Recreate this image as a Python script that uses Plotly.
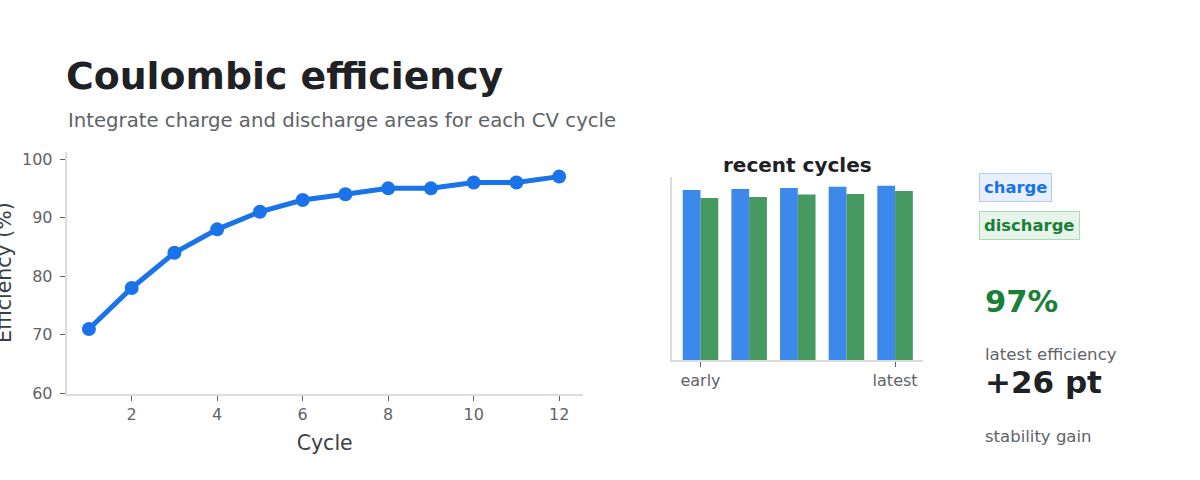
import plotly.graph_objects as go

W, H = 1200, 480

# ---- data ----
cycles = [1, 2, 3, 4, 5, 6, 7, 8, 9, 10, 11, 12]
efficiency = [71, 78, 84, 88, 91, 93, 94, 95, 95, 96, 96, 97]

recent_idx = [0, 1, 2, 3, 4]
recent_ticks = ["early", "latest"]
charge = [100.0, 100.6, 101.2, 101.8, 102.4]
discharge = [95.3, 95.8, 97.3, 97.6, 99.4]

latest_eff = "97%"
gain = "+26 pt"

FONT = "DejaVu Sans"
BLUE = "#1a73e8"
GREEN = "#188038"
DARK = "#202124"
GRAY = "#5f6368"
AXIS = "#dadce0"


def px(x):
    return x / W


def py(y):
    return 1 - y / H


fig = go.Figure()

fig.add_trace(go.Scatter(
    x=cycles, y=efficiency, mode="lines+markers",
    line=dict(color=BLUE, width=5),
    marker=dict(color=BLUE, size=14),
    xaxis="x", yaxis="y", showlegend=False,
))

fig.add_trace(go.Bar(
    x=recent_idx, y=charge, name="charge",
    marker=dict(color=BLUE, opacity=0.85, line=dict(width=0)),
    xaxis="x2", yaxis="y2", showlegend=False,
))
fig.add_trace(go.Bar(
    x=recent_idx, y=discharge, name="discharge",
    marker=dict(color=GREEN, opacity=0.8, line=dict(width=0)),
    xaxis="x2", yaxis="y2", showlegend=False,
))

axis_common = dict(
    showgrid=False, zeroline=False, showline=True, linecolor=AXIS, linewidth=2,
    ticks="outside", ticklen=5, tickcolor=GRAY, tickwidth=1,
    tickfont=dict(family=FONT, size=16, color=GRAY), automargin=False,
)

fig.update_layout(
    width=W, height=H,
    margin=dict(l=0, r=0, t=0, b=0),
    paper_bgcolor="white", plot_bgcolor="white",
    font=dict(family=FONT, color=DARK),
    barmode="group", bargap=0.27, bargroupgap=0,
    xaxis=dict(
        domain=[px(66.7), px(582.7)], range=[0.48, 12.55], anchor="y",
        tickvals=[2, 4, 6, 8, 10, 12],
        title=dict(text="Cycle", font=dict(family=FONT, size=20.5, color="#3c4043"), standoff=13),
        **axis_common,
    ),
    yaxis=dict(
        domain=[py(393.5), py(152)], range=[60, 101.2], anchor="x",
        tickvals=[60, 70, 80, 90, 100], ticklabelstandoff=4,
        **axis_common,
    ),
    xaxis2=dict(
        domain=[px(672.3), px(923.3)], range=[-0.58, 4.58], anchor="y2",
        tickvals=[0, 4], ticktext=recent_ticks,
        **axis_common,
    ),
    yaxis2=dict(
        domain=[py(360), py(177)], range=[0, 107.6], anchor="x2",
        showgrid=False, zeroline=False, showline=True, linecolor=AXIS, linewidth=2,
        showticklabels=False, ticks="", automargin=False,
    ),
)

ann = []
ann.append(dict(text="Efficiency (%)", x=px(4), y=py(273), xanchor="center", yanchor="middle",
                textangle=-90, font=dict(family=FONT, size=20.5, color="#3c4043")))
ann.append(dict(text="<b>Coulombic efficiency</b>", x=px(64), y=py(76), xanchor="left", yanchor="middle",
                font=dict(family=FONT, size=37.8, color=DARK)))
ann.append(dict(text="Integrate charge and discharge areas for each CV cycle", x=px(66), y=py(120),
                xanchor="left", yanchor="middle", font=dict(family=FONT, size=19.7, color=GRAY)))
ann.append(dict(text="<b>recent cycles</b>", x=px(797.8), y=py(165), xanchor="center", yanchor="middle",
                font=dict(family=FONT, size=20, color=DARK)))
ann.append(dict(text="<b>charge</b>", x=px(979), y=py(187), xanchor="left", yanchor="middle",
                font=dict(family=FONT, size=16.4, color=BLUE), bgcolor="#e8f0fe",
                bordercolor="#aecbfa", borderwidth=1, borderpad=4))
ann.append(dict(text="<b>discharge</b>", x=px(979), y=py(225.5), xanchor="left", yanchor="middle",
                font=dict(family=FONT, size=16.4, color=GREEN), bgcolor="#e6f4ea",
                bordercolor="#a8dab5", borderwidth=1, borderpad=4))
ann.append(dict(text="<b>" + latest_eff + "</b>", x=px(983), y=py(301), xanchor="left", yanchor="middle",
                font=dict(family=FONT, size=30.6, color=GREEN)))
ann.append(dict(text="latest efficiency", x=px(983), y=py(354), xanchor="left", yanchor="middle",
                font=dict(family=FONT, size=16.6, color=GRAY)))
ann.append(dict(text="<b>" + gain + "</b>", x=px(983), y=py(382), xanchor="left", yanchor="middle",
                font=dict(family=FONT, size=31, color=DARK)))
ann.append(dict(text="stability gain", x=px(983), y=py(436), xanchor="left", yanchor="middle",
                font=dict(family=FONT, size=16.5, color=GRAY)))

for a in ann:
    a.update(xref="paper", yref="paper", showarrow=False)
fig.update_layout(annotations=ann)

fig.write_html("out.html")
